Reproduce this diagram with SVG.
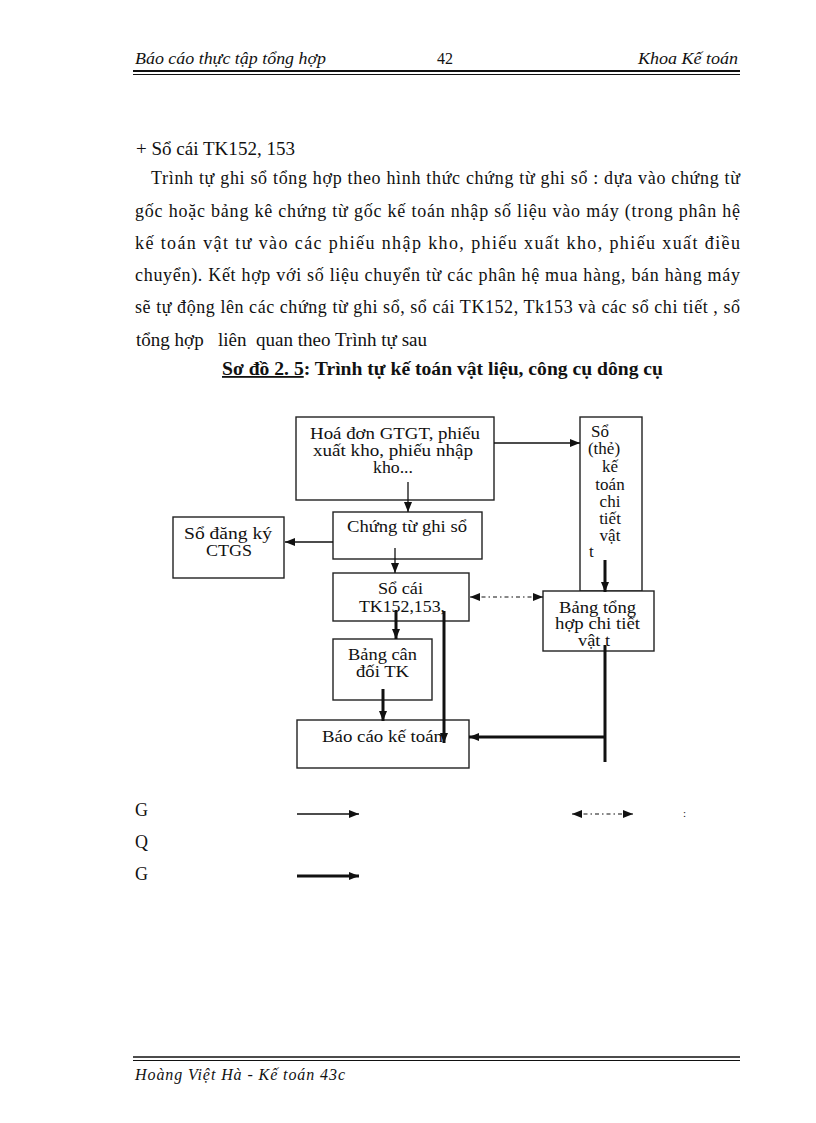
<svg xmlns="http://www.w3.org/2000/svg" width="816" height="1123" viewBox="0 0 816 1123">
<style>
  text { font-family: "Liberation Serif", "Times New Roman", serif; fill: #111; }
  .body { font-size: 18px; }
  .hdr { font-size: 16px; font-style: italic; }
  .nt { font-size: 17px; }
  .ntc { font-size: 17px; text-anchor: middle; }
  .box { fill: #fff; stroke: #222; stroke-width: 1.4; }
  .thin { stroke: #111; stroke-width: 1.3; fill: none; }
  .thick { stroke: #111; stroke-width: 3; fill: none; }
  .dash { stroke: #111; stroke-width: 1.2; fill: none; stroke-dasharray: 4 3 1.5 3; }
</style>
<defs>
  <marker id="ah" markerUnits="userSpaceOnUse" markerWidth="10" markerHeight="8" refX="10" refY="4" orient="auto">
    <path d="M0,0 L10,4 L0,8 z" fill="#111"/>
  </marker>
  <marker id="ahs" markerUnits="userSpaceOnUse" markerWidth="10" markerHeight="8" refX="0" refY="4" orient="auto">
    <path d="M10,0 L0,4 L10,8 z" fill="#111"/>
  </marker>
</defs>
<rect width="816" height="1123" fill="#fff"/>

<!-- header -->
<g id="header">
  <text class="hdr" x="135" y="64" textLength="191" lengthAdjust="spacingAndGlyphs">Báo cáo thực tập tổng hợp</text>
  <text x="437" y="64" style="font-size:16px">42</text>
  <text class="hdr" x="638" y="64" textLength="100" lengthAdjust="spacingAndGlyphs">Khoa Kế toán</text>
  <line x1="133" y1="71" x2="740" y2="71" stroke="#111" stroke-width="2"/>
  <line x1="133" y1="74.5" x2="740" y2="74.5" stroke="#111" stroke-width="1"/>
</g>

<!-- body text -->
<g id="body">
  <text class="body" x="136" y="155" textLength="159" lengthAdjust="spacingAndGlyphs">+ Sổ cái TK152, 153</text>
  <text class="body" x="151" y="184" textLength="589" lengthAdjust="spacing">Trình tự ghi sổ tổng hợp theo hình thức chứng từ ghi  sổ : dựa vào chứng từ</text>
  <text class="body" x="135" y="217" textLength="605" lengthAdjust="spacing">gốc hoặc bảng kê chứng từ gốc kế toán nhập số liệu  vào máy (trong phân hệ</text>
  <text class="body" x="135" y="249" textLength="605" lengthAdjust="spacing">kế toán vật tư vào các phiếu nhập kho, phiếu xuất kho, phiếu xuất điều</text>
  <text class="body" x="135" y="281" textLength="605" lengthAdjust="spacing">chuyển). Kết hợp với số liệu  chuyển từ các phân hệ mua hàng, bán hàng máy</text>
  <text class="body" x="135" y="313" textLength="605" lengthAdjust="spacing">sẽ tự động lên  các chứng từ ghi sổ, sổ cái TK152, Tk153 và các sổ chi tiết  , sổ</text>
  <text class="body" x="136" y="346" xml:space="preserve" textLength="291" lengthAdjust="spacingAndGlyphs">tổng hợp   liên  quan theo Trình tự sau</text>
  <text class="body" x="222" y="375" font-weight="bold" textLength="441" lengthAdjust="spacingAndGlyphs"><tspan text-decoration="underline">Sơ đồ 2. 5</tspan>: Trình tự kế toán vật liệu, công cụ dông cụ</text>
</g>

<!-- nodes -->
<g id="n-tall">
  <rect class="box" x="580" y="417" width="62" height="174"/>
  <text class="nt" x="591" y="437">Sổ</text>
  <text class="ntc" x="604" y="454">(thẻ)</text>
  <text class="ntc" x="610" y="472">kế</text>
  <text class="ntc" x="610" y="490">toán</text>
  <text class="ntc" x="610" y="507">chi</text>
  <text class="ntc" x="610" y="524">tiết</text>
  <text class="ntc" x="610" y="541">vật</text>
  <text class="nt" x="589" y="557">t</text>
</g>
<g id="n-hoadon">
  <rect class="box" x="296" y="417" width="198" height="83"/>
  <text class="nt" x="310" y="439" textLength="170" lengthAdjust="spacingAndGlyphs">Hoá đơn GTGT, phiếu</text>
  <text class="nt" x="313" y="456" textLength="160" lengthAdjust="spacingAndGlyphs">xuất kho, phiếu nhập</text>
  <text class="nt" x="373" y="473" textLength="40" lengthAdjust="spacingAndGlyphs">kho...</text>
</g>
<g id="n-ctgs">
  <rect class="box" x="333" y="512" width="149" height="47"/>
  <text class="nt" x="347" y="532" textLength="120" lengthAdjust="spacingAndGlyphs">Chứng từ ghi sổ</text>
</g>
<g id="n-sodangky">
  <rect class="box" x="173" y="517" width="111" height="61"/>
  <text class="nt" x="184" y="539" textLength="88" lengthAdjust="spacingAndGlyphs">Sổ đăng ký</text>
  <text class="nt" x="206" y="556" textLength="46" lengthAdjust="spacingAndGlyphs">CTGS</text>
</g>
<g id="n-socai">
  <rect class="box" x="333" y="573" width="136" height="48"/>
  <text class="nt" x="378" y="594" textLength="45" lengthAdjust="spacingAndGlyphs">Sổ cái</text>
  <text class="nt" x="359" y="612" textLength="86" lengthAdjust="spacingAndGlyphs">TK152,153,</text>
</g>
<g id="n-bangtong">
  <rect class="box" x="543" y="591" width="111" height="60"/>
  <text class="nt" x="559" y="613" textLength="77" lengthAdjust="spacingAndGlyphs">Bảng tổng</text>
  <text class="nt" x="555" y="629" style="font-size:16px" textLength="85" lengthAdjust="spacingAndGlyphs">hợp chi tiết</text>
  <text class="nt" x="578" y="646" style="font-size:16px" textLength="32" lengthAdjust="spacingAndGlyphs">vật t</text>
</g>
<g id="n-bangcan">
  <rect class="box" x="333" y="639" width="99" height="61"/>
  <text class="nt" x="348" y="660" textLength="69" lengthAdjust="spacingAndGlyphs">Bảng cân</text>
  <text class="nt" x="356" y="677" textLength="53" lengthAdjust="spacingAndGlyphs">đối TK</text>
</g>
<g id="n-baocao">
  <rect class="box" x="297" y="720" width="172" height="48"/>
  <text class="nt" x="322" y="742" textLength="121" lengthAdjust="spacingAndGlyphs">Báo cáo kế toán</text>
</g>

<!-- connectors -->
<g id="connectors">
  <line class="thin" x1="494" y1="443" x2="580" y2="443" marker-end="url(#ah)"/>
  <line class="thin" x1="408" y1="482" x2="408" y2="512" marker-end="url(#ah)"/>
  <line class="thin" x1="395" y1="548" x2="395" y2="573" marker-end="url(#ah)"/>
  <line class="thin" x1="333" y1="542" x2="285" y2="542" marker-end="url(#ah)"/>
  <line class="dash" x1="470" y1="597" x2="543" y2="597" marker-start="url(#ahs)" marker-end="url(#ah)"/>
  <line class="thick" x1="605" y1="560" x2="605" y2="592" marker-end="url(#ah)"/>
  <line class="thick" x1="396" y1="610" x2="396" y2="639" marker-end="url(#ah)"/>
  <line class="thick" x1="383" y1="689" x2="383" y2="721" marker-end="url(#ah)"/>
  <line class="thick" x1="444" y1="611" x2="444" y2="743" marker-end="url(#ah)"/>
  <line class="thick" x1="605" y1="645" x2="605" y2="762"/>
  <line class="thick" x1="605" y1="737" x2="469" y2="737" marker-end="url(#ah)"/>
</g>

<!-- legend -->
<g id="legend">
  <text class="body" x="135" y="816">G</text>
  <text class="body" x="135" y="848">Q</text>
  <text class="body" x="135" y="880">G</text>
  <line class="thin" x1="297" y1="814" x2="359" y2="814" marker-end="url(#ah)"/>
  <line class="dash" x1="572" y1="814" x2="633" y2="814" marker-start="url(#ahs)" marker-end="url(#ah)"/>
  <text x="683" y="817" style="font-size:11px">:</text>
  <line class="thick" x1="297" y1="876" x2="359" y2="876" stroke-width="2.2" marker-end="url(#ah)"/>
</g>

<!-- footer -->
<g id="footer">
  <line x1="133" y1="1057" x2="740" y2="1057" stroke="#111" stroke-width="1.6"/>
  <line x1="133" y1="1060.5" x2="740" y2="1060.5" stroke="#111" stroke-width="1.2"/>
  <text class="hdr" x="135" y="1080" textLength="210" lengthAdjust="spacing">Hoàng Việt Hà - Kế toán 43c</text>
</g>
</svg>
